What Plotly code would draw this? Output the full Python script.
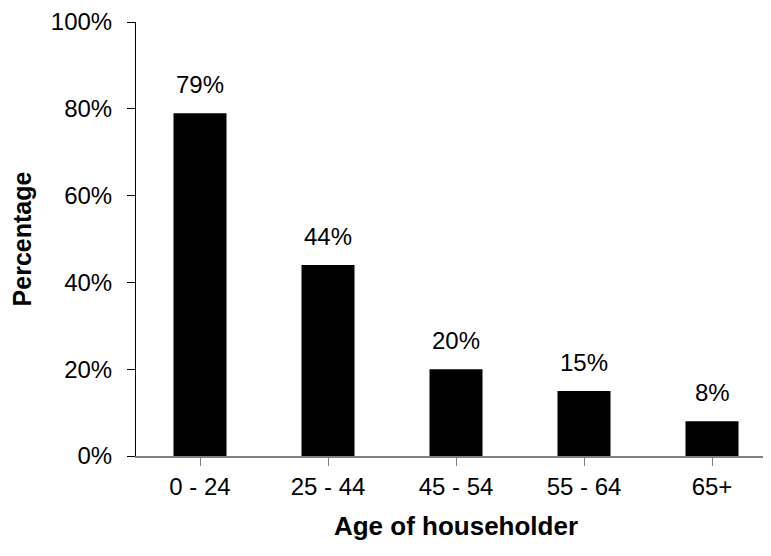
import plotly.graph_objects as go

age_groups = ["0 - 24", "25 - 44", "45 - 54", "55 - 64", "65+"]
percent = [79, 44, 20, 15, 8]
y_ticks = [0, 20, 40, 60, 80, 100]
y_tick_labels = ["0%", "20%", "40%", "60%", "80%", "100%"]

font = "Liberation Sans, Arial, sans-serif"

fig = go.Figure()
fig.add_trace(go.Bar(
    x=list(range(len(age_groups))), y=percent,
    marker=dict(color="black", line=dict(width=0)),
    showlegend=False, hoverinfo="skip"
))

for i, v in enumerate(percent):
    fig.add_annotation(
        x=i, y=v, text=f"{v}%", showarrow=False,
        yanchor="bottom", yshift=13,
        font=dict(family=font, size=24, color="black")
    )

# page body adds 8px offset, so margins are shifted to compensate
fig.update_layout(
    width=771, height=556,
    margin=dict(l=128, r=3, t=14, b=108),
    plot_bgcolor="white", paper_bgcolor="white",
    bargap=0.586,
    font=dict(family=font, size=24, color="black"),
    xaxis=dict(
        range=[-0.5, 4.5], automargin=False,
        tickmode="array", tickvals=list(range(len(age_groups))), ticktext=age_groups,
        tickson="boundaries", ticks="outside", ticklen=8, tickcolor="#808080",
        showline=True, linecolor="#808080", linewidth=2,
        showgrid=False, zeroline=False,
        title=dict(text="<b>Age of householder</b>", font=dict(size=26), standoff=18),
    ),
    yaxis=dict(
        range=[0, 100], automargin=False,
        tickmode="array", tickvals=y_ticks, ticktext=y_tick_labels,
        ticks="outside", ticklen=8, tickcolor="black", ticklabelstandoff=10,
        showline=True, linecolor="black", linewidth=1,
        showgrid=False, zeroline=False,
        title=dict(text="<b>Percentage</b>", font=dict(size=25), standoff=12),
    ),
)

fig.write_html("out.html")
